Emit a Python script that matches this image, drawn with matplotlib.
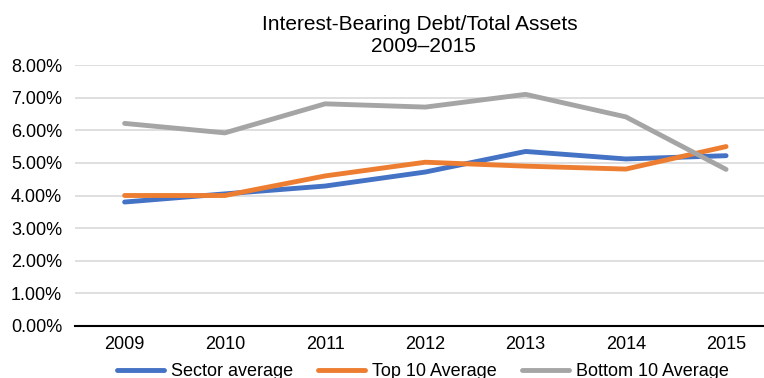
import matplotlib
matplotlib.use("Agg")
import matplotlib.pyplot as plt
from matplotlib.ticker import FuncFormatter

plt.rcParams['font.family'] = ['Liberation Sans', 'DejaVu Sans']

# data
years = ['2009', '2010', '2011', '2012', '2013', '2014', '2015']
sector_avg = [3.80, 4.05, 4.29, 4.72, 5.35, 5.12, 5.22]
top10_avg = [4.00, 4.00, 4.60, 5.02, 4.90, 4.81, 5.50]
bottom10_avg = [6.21, 5.92, 6.81, 6.71, 7.10, 6.41, 4.80]

W, H = 764, 378
fig = plt.figure(figsize=(W/100, H/100), dpi=100)
# the reference is a crop: the plot area runs past the right edge
ax = fig.add_axes([74.5/W, (H-326)/H, 701.7/W, 261/H])

x = range(len(years))
ax.plot(x, sector_avg, color='#4472C4', lw=3.5, label='Sector average', solid_capstyle='round')
ax.plot(x, top10_avg, color='#ED7D31', lw=3.5, label='Top 10 Average', solid_capstyle='round')
ax.plot(x, bottom10_avg, color='#A5A5A5', lw=3.5, label='Bottom 10 Average', solid_capstyle='round')

ax.set_xlim(-0.5, len(years) - 0.5)
ax.set_ylim(0, 8)
ax.set_yticks(range(0, 9))
ax.yaxis.set_major_formatter(FuncFormatter(lambda v, p: '%.2f%%' % v))
ax.set_xticks(list(x))
ax.set_xticklabels(years)
ax.tick_params(axis='both', length=0, labelsize=13, colors='#000000')
ax.tick_params(axis='y', pad=9)
ax.tick_params(axis='x', pad=7)

ax.grid(axis='y', color='#D9D9D9', lw=1.2)
ax.set_axisbelow(True)
for s in ['top', 'right', 'left']:
    ax.spines[s].set_visible(False)
ax.spines['bottom'].set_color('#000000')
ax.spines['bottom'].set_linewidth(1.5)
ax.spines['bottom'].set_zorder(1.5)

# title is centred on the full (uncropped) chart
fig.text(420/W, 1 - 30/H, 'Interest-Bearing Debt/Total Assets', ha='center', va='baseline', fontsize=15)
fig.text(423/W, 1 - 51.5/H, '2009\u20132015', ha='center', va='baseline', fontsize=15)

fig.legend(loc='center', bbox_to_anchor=(423/W, 1 - 372/H), ncol=3, frameon=False,
           fontsize=13, handlelength=2.6, columnspacing=1.38, handletextpad=0.4,
           borderpad=0, borderaxespad=0)

fig.savefig('out.png', dpi=100)
